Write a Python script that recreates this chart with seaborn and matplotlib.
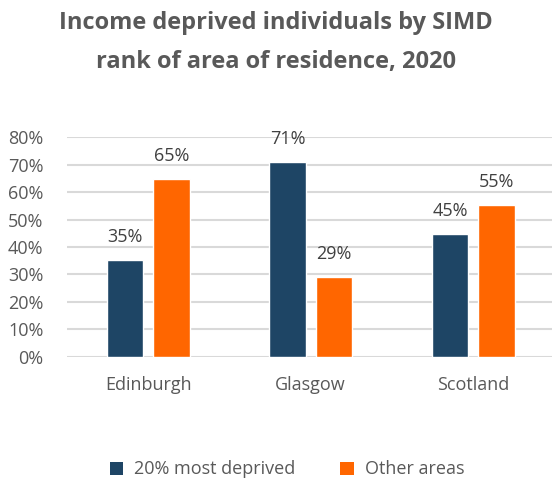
import matplotlib
matplotlib.use("Agg")
import matplotlib.pyplot as plt
import seaborn as sns
import pandas as pd
from matplotlib.patches import Patch

areas = ["Edinburgh", "Glasgow", "Scotland"]
most_deprived = [35.3, 70.9, 44.8]
other_areas = [64.7, 29.1, 55.2]
series_names = ["20% most deprived", "Other areas"]
colors = ["#1E4565", "#FF6600"]
yticks = [0, 10, 20, 30, 40, 50, 60, 70, 80]

df = pd.DataFrame({
    "area": areas * 2,
    "value": most_deprived + other_areas,
    "series": [series_names[0]] * 3 + [series_names[1]] * 3,
})

sns.set_theme(style="white")
plt.rcParams["font.family"] = ["Open Sans", "DejaVu Sans"]
grey = "#595959"

fig = plt.figure(figsize=(5.52, 4.78), dpi=100)
ax = fig.add_axes([67 / 552, (478 - 356.7) / 478, (552 - 67) / 552, 219.4 / 478])

sns.barplot(data=df, x="area", y="value", hue="series", palette=colors,
            width=0.57, gap=0.21, ax=ax, legend=False, saturation=1)

ax.set_ylim(0, 80)
ax.set_xlim(-0.5, -0.5 + 485 / 162.5)
ax.set_yticks(yticks)
ax.set_yticklabels([f"{t}%" for t in yticks], color=grey, fontsize=13)
ax.yaxis.grid(True, color="#D9D9D9", linewidth=1.5)
ax.set_axisbelow(True)
for s in ax.spines.values():
    s.set_visible(False)
ax.tick_params(axis="y", length=0, pad=17)
ax.tick_params(axis="x", length=0, pad=14, labelsize=13, labelcolor=grey)
ax.set_xlabel("")
ax.set_ylabel("")

for cont in ax.containers:
    ax.bar_label(cont, labels=[f"{round(v.get_height())}%" for v in cont],
                 padding=10, fontsize=13, color="#404040")

fig.suptitle("Income deprived individuals by SIMD\nrank of area of residence, 2020",
             x=0.5, y=0.978, fontsize=17, fontweight="bold", color=grey,
             linespacing=1.85)

handles = [Patch(facecolor=c, edgecolor="none") for c in colors]
fig.legend(handles, series_names, loc="lower center", bbox_to_anchor=(0.52, -0.035),
           ncol=2, frameon=False, fontsize=13, labelcolor=grey,
           handlelength=0.75, handleheight=0.75, columnspacing=2.5, handletextpad=0.6)

fig.savefig("out.png", dpi=100)
